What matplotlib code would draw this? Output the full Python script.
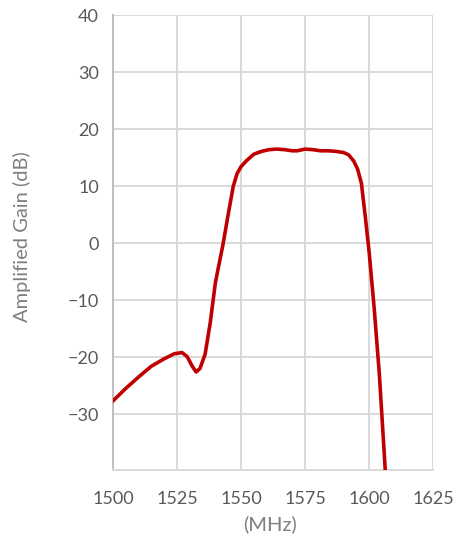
import matplotlib.pyplot as plt

# Gain curve (MHz, dB)
freq_mhz = [1500, 1505, 1510, 1515, 1520, 1524, 1527, 1529, 1531, 1532.5,
            1534, 1536, 1538, 1540, 1541, 1543, 1545, 1547, 1548.5, 1550,
            1552, 1555, 1558, 1561, 1564, 1567, 1570, 1572, 1575, 1578,
            1581, 1584, 1587, 1590, 1592, 1594, 1595.5, 1597, 1598.5, 1600,
            1602, 1604, 1606.4]
gain_db = [-27.7, -25.5, -23.5, -21.6, -20.3, -19.4, -19.2, -19.9, -21.6, -22.6,
           -22.0, -19.5, -14.0, -7.0, -4.7, -0.2, 5.0, 10.0, 12.2, 13.4,
           14.4, 15.6, 16.1, 16.4, 16.5, 16.4, 16.2, 16.2, 16.5, 16.4,
           16.2, 16.2, 16.1, 15.9, 15.5, 14.4, 13.0, 10.5, 4.7, -1.5,
           -11.5, -23.0, -40.5]

x_ticks = [1500, 1525, 1550, 1575, 1600, 1625]
y_ticks = [-30, -20, -10, 0, 10, 20, 30, 40]

plt.rcParams['font.family'] = ['Lato', 'DejaVu Sans']

fig = plt.figure(figsize=(4.55, 5.4), dpi=100)
ax = fig.add_axes([0.248, 0.1296, 0.704, 0.8424])

ax.plot(freq_mhz, gain_db, color='#c00000', lw=2.6, solid_joinstyle='round', zorder=3)

ax.set_xlim(1500, 1625)
ax.set_ylim(-39.8, 40)
ax.set_xticks(x_ticks)
ax.set_yticks(y_ticks)
ax.grid(True, color='#d9d9d9', lw=1.4)
ax.set_axisbelow(True)

for side in ['top', 'right']:
    ax.spines[side].set_visible(False)
ax.spines['left'].set_color('#bfbfbf')
ax.spines['left'].set_linewidth(1.4)
ax.spines['bottom'].set_color('#d9d9d9')
ax.spines['bottom'].set_linewidth(1.4)

ax.tick_params(axis='both', length=0, labelsize=13, labelcolor='#595959')
ax.tick_params(axis='x', pad=15)
ax.tick_params(axis='y', pad=10)

ax.set_ylabel('Amplified Gain (dB)', fontsize=14.5, color='#7f7f7f')
ax.yaxis.set_label_coords(-0.255, 0.513)
ax.set_xlabel('(MHz)', fontsize=14.5, color='#7f7f7f')
ax.xaxis.set_label_coords(0.49, -0.1)

plt.savefig('out.png', dpi=100)
